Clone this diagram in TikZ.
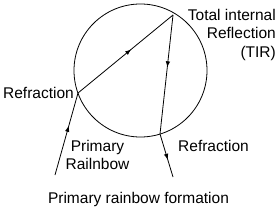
\documentclass[tikz,border=0pt]{standalone}
\usepackage{fontspec}
\setmainfont{Liberation Sans}
\usetikzlibrary{arrows.meta, decorations.markings}

\begin{document}
\begin{tikzpicture}[
  x=1pt, y=-1pt,
  ray/.style={line width=0.8pt},
  midarrow/.style={postaction={decorate, decoration={markings,
    mark=at position #1 with {\arrow{Latex[length=6pt,width=4.5pt]}}}}},
  lbl/.style={font=\fontsize{15.5}{18.5}\selectfont, inner sep=0pt, align=center}
]
  \useasboundingbox (0,0) rectangle (280,216);

  % the drop
  \node[draw, circle, line width=0.8pt, minimum size=133pt, inner sep=0pt] (drop) at (140.5,70.5) {};

  % points on the ray path
  \coordinate (src) at (55,175);
  \coordinate (entry) at (78,93);
  \coordinate (tir) at (173,15);
  \coordinate (exit) at (160,134);
  \coordinate (out) at (173,177);

  \draw[ray, midarrow=0.6] (src) -- (entry);
  \draw[ray, midarrow=0.56] (entry) -- (tir);
  \draw[ray, midarrow=0.44] (tir) -- (exit);
  \draw[ray, midarrow=0.6] (exit) -- (out);

  % labels
  \node[lbl, align=right, anchor=north east] (tirlbl) at (276,9) {Total internal\\Reflection\\(TIR)};
  \node[lbl, anchor=east] (refrin) at (74,93) {Refraction};
  \node[lbl, anchor=west] (refrout) at (178,146) {Refraction};
  \node[lbl] (primary) at (97.5,155) {Primary\\Railnbow};
  \node[lbl] (caption) at (138.5,199) {Primary rainbow formation};
\end{tikzpicture}
\end{document}
